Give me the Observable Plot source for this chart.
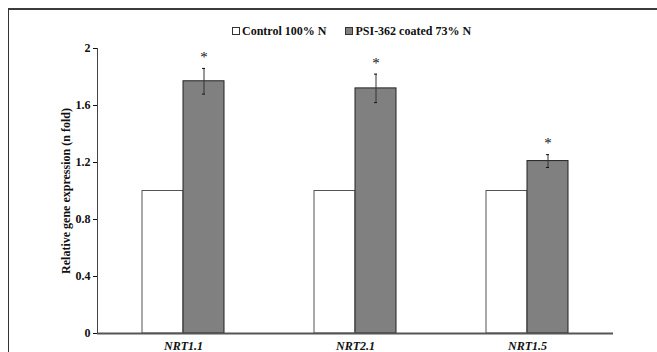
<!DOCTYPE html>
<html><head><meta charset="utf-8">
<script src="https://cdn.jsdelivr.net/npm/d3@7"></script>
<script src="https://cdn.jsdelivr.net/npm/@observablehq/plot@0.6"></script>
<style>
body{margin:0;overflow:hidden;background:#fff}
#wrap{position:relative;width:657px;height:352px;overflow:hidden;font-family:"Liberation Serif","Times New Roman",serif}
#frame{position:absolute;left:8px;top:8px;width:700px;height:400px;border-top:2px solid #3c3c3c;border-left:1px solid #333;pointer-events:none}
#legend{position:absolute;top:24px;left:232px;font-weight:bold;font-size:12px;display:flex;gap:19px;white-space:nowrap;color:#111}
#legend span.sw{display:inline-block;width:6px;height:6px;border:1px solid #333;margin-right:2px;vertical-align:0px}
#chart{position:absolute;left:0;top:0}
</style>
</head><body>
<div id="wrap">
  <div id="chart"></div>
  <div id="frame"></div>
  <div id="legend"></div>
</div>
<script>
const genes = ["NRT1.1", "NRT2.1", "NRT1.5"];
const seriesNames = ["Control 100% N", "PSI-362 coated 73% N"];
const seriesColors = ["#ffffff", "#808080"];
const controlValues = [1, 1, 1];
const treatedValues = [1.77, 1.72, 1.21];
const treatedErrors = [0.09, 0.10, 0.045];
const significance = ["*", "*", "*"];
const yTicks = [0, 0.4, 0.8, 1.2, 1.6, 2];
const yLabel = "Relative gene expression (n fold)";

const control = genes.map((g, i) => ({gene: g, value: controlValues[i]}));
const treated = genes.map((g, i) => ({
  gene: g, value: treatedValues[i],
  lo: treatedValues[i] - treatedErrors[i],
  hi: treatedValues[i] + treatedErrors[i],
  sig: significance[i]
}));

const legend = document.getElementById("legend");
seriesNames.forEach((n, i) => {
  const d = document.createElement("div");
  d.innerHTML = `<span class="sw" style="background:${seriesColors[i]}"></span>${n}`;
  legend.appendChild(d);
});

const chart = Plot.plot({
  width: 657,
  height: 352,
  marginLeft: 97,
  marginRight: 44,
  marginTop: 48,
  marginBottom: 19,
  style: {fontFamily: "'Liberation Serif','Times New Roman',serif", fontWeight: "bold", fontSize: "12px", color: "#111", background: "transparent"},
  x: {domain: genes, padding: 0},
  y: {domain: [0, 2]},
  marks: [
    Plot.barY(control, {x: "gene", y: "value", fill: seriesColors[0], stroke: "#555", strokeWidth: 1, insetLeft: 45, insetRight: 86}),
    Plot.barY(treated, {x: "gene", y: "value", fill: seriesColors[1], stroke: "#222", strokeWidth: 1, insetLeft: 86, insetRight: 45}),
    Plot.ruleX(treated, {x: "gene", y1: "lo", y2: "hi", dx: 20.5, stroke: "#333", strokeWidth: 1}),
    Plot.tickY(treated, {x: "gene", y: "hi", insetLeft: 105, insetRight: 64, stroke: "#111"}),
    Plot.tickY(treated, {x: "gene", y: "lo", insetLeft: 105, insetRight: 64, stroke: "#111"}),
    Plot.text(treated, {x: "gene", y: "hi", text: "sig", dx: 20.5, dy: -11, fontSize: 15, fontWeight: "normal", fill: "#111"}),
    Plot.frame({anchor: "left", stroke: "#444"}),
    Plot.ruleY([0], {stroke: "#555", strokeWidth: 2}),
    Plot.axisY({ticks: yTicks, tickSize: 4, tickPadding: 3, tickFormat: d => String(d), label: yLabel, labelAnchor: "center", labelOffset: 36, labelArrow: "none", fontSize: 12}),
    Plot.axisX({tickSize: 0, tickPadding: 8, label: null, fontStyle: "italic", fontSize: 12})
  ]
});
document.getElementById("chart").appendChild(chart);
</script>
</body></html>
